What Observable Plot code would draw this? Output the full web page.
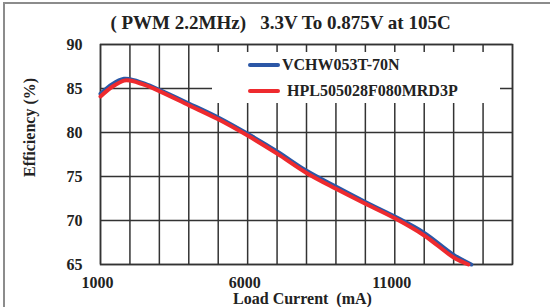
<!DOCTYPE html>
<html>
<head>
<meta charset="utf-8">
<script src="https://cdn.jsdelivr.net/npm/d3@7"></script>
<script src="https://cdn.jsdelivr.net/npm/@observablehq/plot@0.6"></script>
<style>
  html, body { margin: 0; padding: 0; background: #fff; }
  #wrap { position: relative; width: 550px; height: 307px; overflow: hidden; background: #fff; font-family: "Liberation Serif", "Times New Roman", serif; font-weight: bold; }
  #border { position: absolute; left: 3px; top: 2px; width: 600px; height: 400px; border-left: 2px solid #8c8c8c; border-top: 2px solid #8c8c8c; pointer-events: none; }
  #legend { position: absolute; left: 212px; top: 52px; width: 288px; height: 51px; background: #fff; }
  .sw { position: absolute; left: 36px; width: 32px; height: 4px; border-radius: 2px; }
  .lt { position: absolute; font-size: 16px; line-height: 20px; color: #222; white-space: pre; }
</style>
</head>
<body>
<div id="wrap">
  <div id="chart"></div>
  <div id="border"></div>
  <div id="legend"></div>
</div>
<script>
// ---- data ----
const titleText = "( PWM 2.2MHz)\u00a0\u00a0\u00a03.3V To 0.875V at 105C";
const xLabel = "Load Current\u00a0\u00a0(mA)";
const yLabel = "Efficiency (%)";
const seriesNames = ["VCHW053T-70N", "HPL505028F080MRD3P"];
const seriesColors = ["#2b57a6", "#ee2a2e"];
const xTicks = [1000, 6000, 11000];
const yTicks = [65, 70, 75, 80, 85, 90];
const xGrid = [1000, 2000, 3000, 4000, 5000, 6000, 7000, 8000, 9000, 10000, 11000, 12000, 13000, 14000, 15000];
const xDomain = [1000, 15000];
const yDomain = [65, 90];

const loadBlue = [1000, 1400, 1800, 2000, 2500, 3000, 4000, 5000, 6000, 7000, 8000, 9000, 10000, 11000, 12000, 13000, 13600];
const effBlue  = [84.4, 85.5, 86.1, 86.05, 85.55, 84.85, 83.3, 81.7, 79.85, 77.85, 75.65, 73.85, 72.1, 70.45, 68.6, 66.1, 65.0];
const loadRed  = [1000, 1400, 1800, 2000, 2500, 3000, 4000, 5000, 6000, 7000, 8000, 9000, 10000, 11000, 12000, 13000, 13500];
const effRed   = [84.1, 85.2, 85.9, 85.9, 85.4, 84.7, 83.1, 81.5, 79.65, 77.6, 75.4, 73.6, 71.9, 70.25, 68.3, 65.8, 65.0];

const blue = loadBlue.map((x, i) => ({x, y: effBlue[i]}));
const red = loadRed.map((x, i) => ({x, y: effRed[i]}));

const chart = Plot.plot({
  width: 550,
  height: 307,
  marginLeft: 100,
  marginRight: 38,
  marginTop: 44,
  marginBottom: 43,
  x: {domain: xDomain},
  y: {domain: yDomain},
  style: {fontFamily: "'Liberation Serif', 'Times New Roman', serif", fontWeight: "bold", fontSize: "16px", color: "#222", background: "transparent"},
  marks: [
    Plot.ruleX(xGrid, {stroke: "#333", strokeWidth: 1.5}),
    Plot.ruleY(yTicks, {stroke: "#333", strokeWidth: 1.5}),
    Plot.frame({stroke: "#333", strokeWidth: 1.5, fill: "none"}),
    Plot.line(blue, {x: "x", y: "y", stroke: seriesColors[0], strokeWidth: 4, curve: "catmull-rom"}),
    Plot.line(red, {x: "x", y: "y", stroke: seriesColors[1], strokeWidth: 4, curve: "catmull-rom"}),
    Plot.axisX(xTicks, {tickSize: 0, tickPadding: 12, dx: -3, label: null, fontSize: 16, tickFormat: d => String(d)}),
    Plot.axisY(yTicks, {tickSize: 0, tickPadding: 18, label: null, fontSize: 16}),
    Plot.text([xLabel], {frameAnchor: "bottom", textAnchor: "middle", dy: 34, dx: -4, lineAnchor: "middle", fontSize: 16, fill: "#222"}),
    Plot.text([yLabel], {frameAnchor: "left", textAnchor: "middle", rotate: -90, dx: -71, dy: -27, lineAnchor: "middle", fontSize: 16, fill: "#222"}),
    Plot.text([titleText], {frameAnchor: "top", textAnchor: "middle", dy: -22, dx: -26, lineAnchor: "middle", fontSize: 19, fill: "#222"})
  ]
});
document.getElementById("chart").appendChild(chart);

const legend = document.getElementById("legend");
const lineTops = [11, 37];
const textLefts = [70, 75];
seriesNames.forEach((name, i) => {
  const sw = document.createElement("div");
  sw.className = "sw";
  sw.style.top = lineTops[i] + "px";
  sw.style.background = seriesColors[i];
  legend.appendChild(sw);
  const t = document.createElement("div");
  t.className = "lt";
  t.style.left = textLefts[i] + "px";
  t.style.top = (lineTops[i] - 8) + "px";
  t.textContent = name;
  legend.appendChild(t);
});
</script>
</body>
</html>
